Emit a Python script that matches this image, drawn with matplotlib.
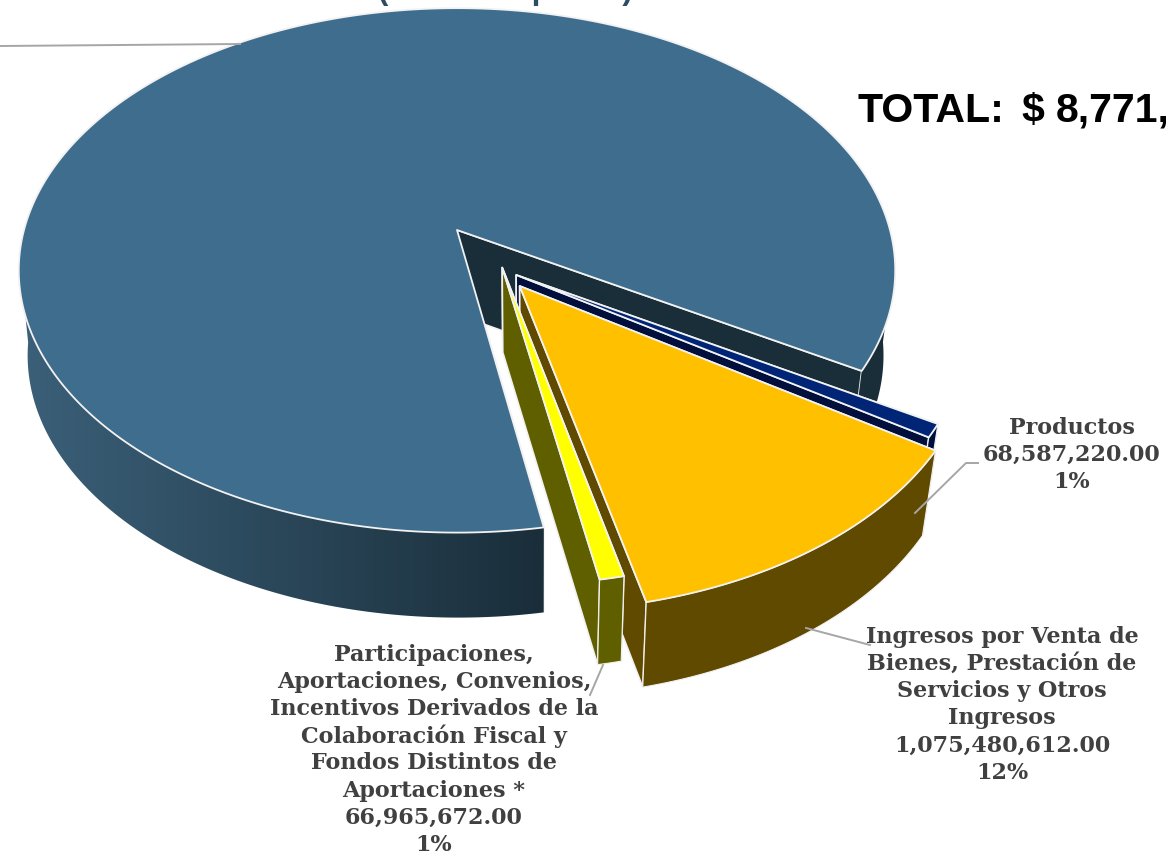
import numpy as np
import matplotlib
matplotlib.use("Agg")
import matplotlib.pyplot as plt
from matplotlib.colors import to_rgb
from matplotlib.patches import PathPatch
from matplotlib.path import Path

# clockwise from the right-hand cut of the big slice
# the big slice is not labelled in the visible part, so it is total minus the others
names = ["Productos", "Ingresos", "Participaciones", "Resto"]
values = [68587220.00, 1075480612.00, 66965672.00, 7560000000.00]

label_productos = ["Productos", "68,587,220.00", "1%"]
label_ingresos = ["Ingresos por Venta de", "Bienes, Prestación de", "Servicios y Otros",
                  "Ingresos", "1,075,480,612.00", "12%"]
label_particip = ["Participaciones,", "Aportaciones, Convenios,", "Incentivos Derivados de la",
                  "Colaboración Fiscal y", "Fondos Distintos de", "Aportaciones *",
                  "66,965,672.00", "1%"]

top_colors = ["#002576", "#FFC000", "#FFFF00", "#3F6D8E"]
cut_colors = ["#000F3C", "#604A00", "#5F5F00", "#1A2E3A"]
wall_colors = ["#000F3C", "#604A00", "#5F5F00", "#1A2E3A"]
# explosion of each slice on the pie plane
offsets = [(0.133, -0.171), (0.14, -0.2116), (0.102, -0.143), (0.0, 0.0)]

# perspective of the pie plane, in pixels
cx, cy, a, b, k = 457, 230, 433, 256, 0.154
depth = 85
start = -30.5
edge = "#F2F2F2"


def project(x, y, z=0):
    w = 1 + k * np.asarray(y, dtype=float)
    X = cx + a * np.asarray(x, dtype=float) / w
    Y = cy - b * np.asarray(y, dtype=float) / w
    lean = np.where(X < 540, 0.017, 0.033)
    return X - lean * (X - 540) * z, Y + depth * z


fig = plt.figure(figsize=(11.66, 8.55), dpi=100)
ax = fig.add_axes([0, 0, 1, 1])

total = sum(values)
sweeps = [v / total * 360 for v in values]
angle = start
slices = []
for i, s in enumerate(sweeps):
    slices.append((i, angle, angle - s))
    angle -= s

# horizontal shading of the big slice's wall
px_x = np.arange(1166)
shade = np.clip((px_x - 20) / 520, 0, 1)[:, None]
shade_rgb = (1 - shade) * np.array(to_rgb("#3B6079")) + shade * np.array(to_rgb(wall_colors[3]))
shade_img = shade_rgb[None, :, :]

# big slice first, the exploded ones on top of it
for order, (i, a0, a1) in enumerate([slices[3], slices[0], slices[1], slices[2]]):
    ox, oy = offsets[i]
    th = np.radians(np.linspace(a0, a1, max(int(abs(a0 - a1) * 2), 6)))
    xs = ox + np.cos(th)
    ys = oy + np.sin(th)

    # the two cut walls
    for t in (th[0], th[-1]):
        ex = np.array([ox, ox + np.cos(t)])
        ey = np.array([oy, oy + np.sin(t)])
        px, py = project(ex, ey)
        qx, qy = project(ex, ey, 1)
        ax.fill([px[0], px[1], qx[1], qx[0]], [py[0], py[1], qy[1], qy[0]],
                facecolor=cut_colors[i], edgecolor=edge, lw=1.2, zorder=order + 1.1)

    # outer wall, only the part of the arc that faces the viewer
    tx, ty = project(xs, ys)
    bx, by = project(xs, ys, 1)
    if i == 3:
        front = np.sin(th) < -0.1
        breaks = np.where(np.diff(front.astype(int)) != 0)[0] + 1
        parts = []
        for idx in np.split(np.arange(len(th)), breaks):
            if front[idx[0]] and len(idx) > 1:
                ring = np.column_stack([np.concatenate([tx[idx], bx[idx][::-1]]),
                                        np.concatenate([ty[idx], by[idx][::-1]])])
                parts.append(Path(np.vstack([ring, ring[:1]]), closed=True))
        clip = PathPatch(Path.make_compound_path(*parts), transform=ax.transData,
                         facecolor="none", edgecolor="none")
        ax.add_patch(clip)
        im = ax.imshow(shade_img, extent=(0, 1166, 855, 0), aspect="auto", zorder=order + 1.2)
        im.set_clip_path(clip)
    else:
        ax.fill(np.concatenate([tx, bx[::-1]]), np.concatenate([ty, by[::-1]]),
                facecolor=wall_colors[i], edgecolor=edge, lw=0.8, zorder=order + 1.2)

    # top face
    rx = np.concatenate([[ox], xs])
    ry = np.concatenate([[oy], ys])
    px, py = project(rx, ry)
    ax.fill(px, py, facecolor=top_colors[i], edgecolor=edge, lw=1.3, joinstyle="round", zorder=order + 1.3)

ax.set_xlim(0, 1166)
ax.set_ylim(855, 0)
ax.axis("off")

# leader lines
lead = "#A6A6A6"
ax.plot([0, 240], [46, 44], color=lead, lw=1.4, zorder=6)
ax.plot([915, 966, 978], [513, 463, 463], color=lead, lw=1.4, zorder=6)
ax.plot([806, 870], [628, 645], color=lead, lw=1.4, zorder=6)
ax.plot([603, 590], [665, 695], color=lead, lw=1.4, zorder=6)

# labels
lab = dict(family="DejaVu Serif", fontweight="bold", fontsize=16, color="#404040",
           ha="center", va="center", zorder=7)
for lines, x, y0 in [(label_productos, 1072, 428), (label_ingresos, 1002, 637), (label_particip, 434, 655)]:
    for n, line in enumerate(lines):
        ax.text(x, y0 + n * 27.1, line, **lab)

tot = dict(family="Liberation Sans", fontweight="bold", fontsize=29.5, color="black",
           ha="left", va="baseline")
ax.text(858, 122, "TOTAL:", **tot)
ax.text(1021, 122, "$", **tot)
ax.text(1056, 122, "8,771,", **tot)
ax.text(505, -1.5, "(Cifras en pesos)", family="Liberation Sans", fontweight="bold", fontsize=22.6,
        color="#2B4D66", ha="center", va="baseline", clip_on=False)

fig.savefig("out.png", dpi=100)
